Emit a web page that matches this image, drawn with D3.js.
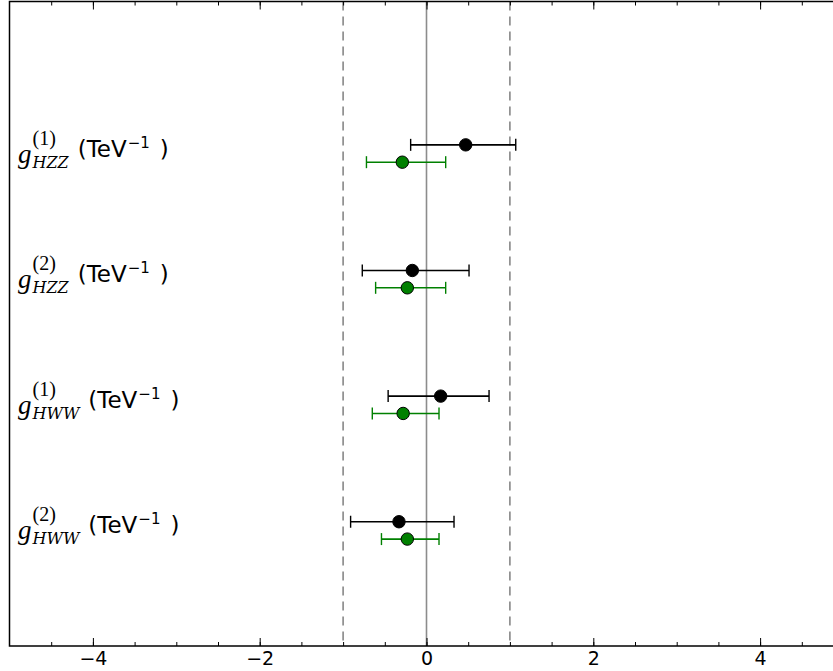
<!DOCTYPE html>
<html><head><meta charset="utf-8">
<script src="https://cdn.jsdelivr.net/npm/d3@7/dist/d3.min.js"></script>
<style>html,body{margin:0;padding:0;background:#fff;overflow:hidden}</style>
</head><body>
<svg id="chart" width="833" height="671"></svg>
<script>
// ---- data ----
const supLabels = ["(1)", "(2)", "(1)", "(2)"];
const subLabels = ["HZZ", "HZZ", "HWW", "HWW"];
const rowPos = [4, 3, 2, 1];
const blackCenter = [0.47, -0.17, 0.17, -0.33];
const blackLow = [-0.19, -0.77, -0.46, -0.91];
const blackHigh = [1.07, 0.51, 0.75, 0.33];
const greenCenter = [-0.29, -0.23, -0.28, -0.23];
const greenLow = [-0.72, -0.61, -0.65, -0.54];
const greenHigh = [0.23, 0.23, 0.15, 0.15];
const xTickValues = [-4, -2, 0, 2, 4];
const xMinorValues = [-4.5,-4,-3.5,-3,-2.5,-2,-1.5,-1,-0.5,0,0.5,1,1.5,2,2.5,3,3.5,4,4.5];
const dashedRefs = [-1, 1];
const solidRefs = [0];

// ---- layout ----
const svg = d3.select("#chart");
const pLeft = 9.5, pRight = 843.5, pTop = 1.5, pBottom = 646;
const x = d3.scaleLinear().domain([-5, 5]).range([pLeft, pRight]);
const y = d3.scaleLinear().domain([0.08, 5.21]).range([pBottom, pTop]);
const off = 0.069;

// reference lines
svg.selectAll("line.dref").data(dashedRefs).join("line")
  .attr("x1", d => x(d)).attr("x2", d => x(d)).attr("y1", pTop).attr("y2", pBottom)
  .attr("stroke", "#7f7f7f").attr("stroke-width", 1.5).attr("stroke-dasharray", "9,6");
svg.selectAll("line.sref").data(solidRefs).join("line")
  .attr("x1", d => x(d)).attr("x2", d => x(d)).attr("y1", pTop).attr("y2", pBottom)
  .attr("stroke", "#8c8c8c").attr("stroke-width", 1.6);

// axes (ticks inward)
const gx = svg.append("g").attr("transform", `translate(0,${pBottom})`)
  .call(d3.axisBottom(x).tickValues(xTickValues).tickSize(-8).tickPadding(6)
    .tickFormat(d => d < 0 ? "\u2212" + Math.abs(d) : String(d)));
gx.select(".domain").remove();
gx.selectAll("text").attr("font-family", "DejaVu Sans").attr("font-size", 19).attr("fill", "#000");
gx.selectAll("line").attr("stroke", "#000").attr("stroke-width", 1);
const gxm = svg.append("g").attr("transform", `translate(0,${pBottom})`)
  .call(d3.axisBottom(x).tickValues(xMinorValues).tickSize(-4).tickFormat(""));
gxm.select(".domain").remove();
gxm.selectAll("line").attr("stroke", "#000").attr("stroke-width", 1);
const gtop = svg.append("g").attr("transform", `translate(0,${pTop})`)
  .call(d3.axisTop(x).tickValues(xTickValues).tickSize(-8).tickFormat(""));
gtop.select(".domain").remove();
gtop.selectAll("line").attr("stroke", "#000").attr("stroke-width", 1);
const gtm = svg.append("g").attr("transform", `translate(0,${pTop})`)
  .call(d3.axisTop(x).tickValues(xMinorValues).tickSize(-4).tickFormat(""));
gtm.select(".domain").remove();
gtm.selectAll("line").attr("stroke", "#000").attr("stroke-width", 1);

// frame
svg.append("rect").attr("x", pLeft).attr("y", pTop).attr("width", pRight - pLeft).attr("height", pBottom - pTop)
  .attr("fill", "none").attr("stroke", "#000").attr("stroke-width", 1.5);

// error bars
function drawSeries(center, low, high, dy, color, name) {
  const g = svg.append("g").attr("class", name);
  const rows = center.map((c, i) => ({c, lo: low[i], hi: high[i], yv: rowPos[i] + dy}));
  g.selectAll("line.bar").data(rows).join("line")
    .attr("x1", d => x(d.lo)).attr("x2", d => x(d.hi))
    .attr("y1", d => y(d.yv)).attr("y2", d => y(d.yv))
    .attr("stroke", color).attr("stroke-width", 1.6);
  g.selectAll("line.capl").data(rows).join("line")
    .attr("x1", d => x(d.lo)).attr("x2", d => x(d.lo))
    .attr("y1", d => y(d.yv) - 6).attr("y2", d => y(d.yv) + 6)
    .attr("stroke", color).attr("stroke-width", 1.4);
  g.selectAll("line.caph").data(rows).join("line")
    .attr("x1", d => x(d.hi)).attr("x2", d => x(d.hi))
    .attr("y1", d => y(d.yv) - 6).attr("y2", d => y(d.yv) + 6)
    .attr("stroke", color).attr("stroke-width", 1.4);
  g.selectAll("circle").data(rows).join("circle")
    .attr("cx", d => x(d.c)).attr("cy", d => y(d.yv)).attr("r", 6.2)
    .attr("fill", color).attr("stroke", "#000").attr("stroke-width", 1);
}
drawSeries(blackCenter, blackLow, blackHigh, off, "#000000", "black");
drawSeries(greenCenter, greenLow, greenHigh, -off, "#008000", "green");

// y labels
const labG = svg.append("g");
rowPos.forEach((r, i) => {
  const cy = y(r);
  const g = labG.append("g");
  const gt = g.append("text").attr("x", 18).attr("y", cy + 9)
    .attr("font-family", "Liberation Serif").attr("font-style", "italic").attr("font-size", 27)
    .text("g");
  const gx2 = 18 + gt.node().getComputedTextLength() + 1;
  const sup = g.append("text").attr("x", gx2).attr("y", cy - 9)
    .attr("font-family", "Liberation Serif").attr("font-size", 20).text(supLabels[i]);
  const sub = g.append("text").attr("x", gx2).attr("y", cy + 14)
    .attr("font-family", "DejaVu Serif").attr("font-style", "italic").attr("font-size", 16)
    .text(subLabels[i]);
  const ex = gx2 + Math.max(sup.node().getComputedTextLength(), sub.node().getComputedTextLength()) + 9;
  const t = g.append("text").attr("x", ex).attr("y", cy + 3)
    .attr("font-family", "DejaVu Sans").attr("font-size", 23).attr("fill", "#000");
  t.append("tspan").text("(TeV");
  t.append("tspan").attr("dy", -9).attr("dx", 1).attr("font-size", 15).text("\u22121");
  t.append("tspan").attr("dy", 9).attr("dx", 10).text(")");
});
</script>
</body></html>
